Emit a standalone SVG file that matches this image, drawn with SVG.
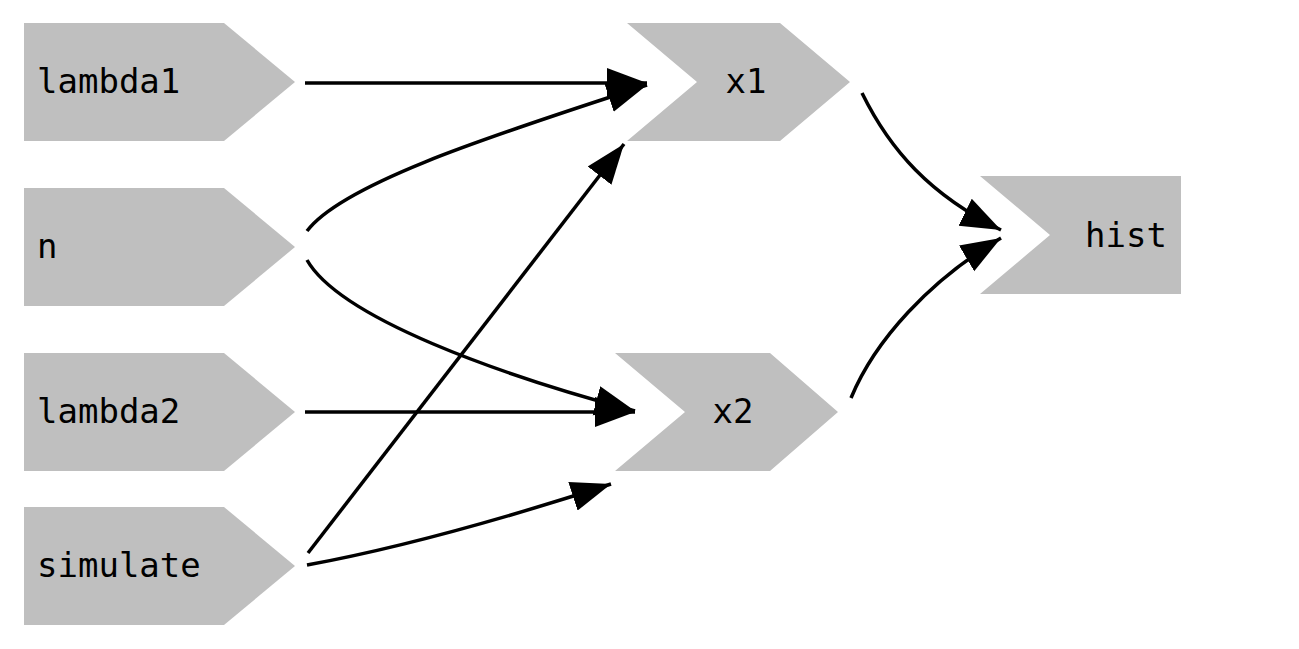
<svg xmlns="http://www.w3.org/2000/svg" width="1299" height="649" viewBox="0 0 1299 649">
<style>
.node{fill:#bfbfbf;stroke:none}
.lbl{font-family:"DejaVu Sans Mono","Liberation Mono",monospace;font-size:34px;fill:#000}
.edge{fill:none;stroke:#000;stroke-width:3.5}
</style>
<defs>
<marker id="ah" markerUnits="userSpaceOnUse" markerWidth="42" markerHeight="34" refX="40" refY="16" orient="auto" viewBox="0 0 42 34">
<path d="M0,1 L40,16 L0,31 Z" fill="#000"/>
</marker>
</defs>
<rect width="1299" height="649" fill="#fff"/>
<g id="lambda1"><polygon class="node" points="24,23 224,23 295,82 224,141 24,141"/><text class="lbl" x="37" y="93">lambda1</text></g>
<g id="n"><polygon class="node" points="24,188 224,188 295,247 224,306 24,306"/><text class="lbl" x="37" y="258">n</text></g>
<g id="lambda2"><polygon class="node" points="24,353 224,353 295,412 224,471 24,471"/><text class="lbl" x="37" y="423">lambda2</text></g>
<g id="simulate"><polygon class="node" points="24,507 224,507 295,566 224,625 24,625"/><text class="lbl" x="37" y="577">simulate</text></g>
<g id="x1"><polygon class="node" points="627,23 780,23 850,82 780,141 627,141 697,82"/><text class="lbl" x="746" y="93" text-anchor="middle">x1</text></g>
<g id="x2"><polygon class="node" points="615,353 770,353 838,412 770,471 615,471 685,412"/><text class="lbl" x="733" y="423" text-anchor="middle">x2</text></g>
<g id="hist"><polygon class="node" points="980,176 1181,176 1181,294 980,294 1050,235"/><text class="lbl" x="1167" y="247" text-anchor="end">hist</text></g>
<g id="connectors">
<path class="edge" marker-end="url(#ah)" d="M305,83 L647,83"/>
<path class="edge" marker-end="url(#ah)" d="M307,231 C345,180 520,127 647,85"/>
<path class="edge" marker-end="url(#ah)" d="M307,260 C340,318 500,375 635,411"/>
<path class="edge" marker-end="url(#ah)" d="M305,412 L635,412"/>
<path class="edge" marker-end="url(#ah)" d="M308,553 L624,144"/>
<path class="edge" marker-end="url(#ah)" d="M307,565 C400,548 500,520 611,484"/>
<path class="edge" marker-end="url(#ah)" d="M862,93 C890,150 930,195 1001,230"/>
<path class="edge" marker-end="url(#ah)" d="M851,398 C875,340 930,280 1001,238"/>
</g>
</svg>
